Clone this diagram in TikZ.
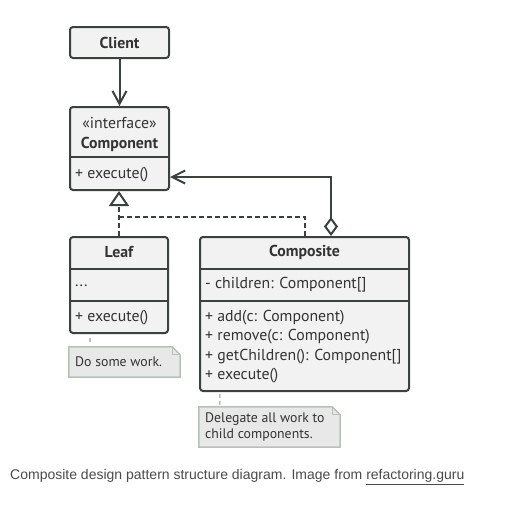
\documentclass[tikz,border=0pt]{standalone}
\usepackage{fontspec}
\setmainfont{PT Sans}
\newfontfamily\captionfont{Liberation Sans}
\usetikzlibrary{arrows.meta}
\usetikzlibrary{calc}
\usetikzlibrary{positioning}
\usetikzlibrary{backgrounds}

\definecolor{boxline}{HTML}{3B413D}
\definecolor{boxfill}{HTML}{F2F2F2}
\definecolor{notefill}{HTML}{E8E8E8}
\definecolor{noteline}{HTML}{B6C2B6}
\definecolor{umltext}{HTML}{333333}
\definecolor{captiontext}{HTML}{4A4A4A}

\begin{document}
\begin{tikzpicture}[
    x=1pt,
    y=-1pt,
    umlbox/.style={
        rectangle,
        draw=boxline,
        fill=boxfill,
        line width=2pt,
        rounded corners=3pt,
        inner sep=0pt,
        },
    title/.style={
        font=\fontsize{15.8}{18}\selectfont\bfseries,
        text=umltext,
        inner sep=0pt,
        },
    stereo/.style={
        font=\fontsize{15.8}{18}\selectfont,
        text=umltext,
        inner sep=0pt,
        },
    member/.style={
        font=\fontsize{15.8}{19.5}\selectfont,
        text=umltext,
        anchor=west,
        align=left,
        inner sep=0pt,
        },
    divider/.style={
        draw=boxline,
        line width=2pt,
        },
    note/.style={
        minimum height=30pt,
        inner sep=0pt,
        },
    notetext/.style={
        font=\fontsize{13.8}{15.5}\selectfont,
        text=umltext,
        anchor=west,
        align=left,
        inner sep=0pt,
        },
    noteedge/.style={
        fill=notefill,
        draw=noteline,
        line width=1.5pt,
        },
    notelink/.style={
        draw=noteline,
        line width=1.5pt,
        dash pattern=on 4pt off 3pt,
        },
    link/.style={
        draw=boxline,
        line width=2pt,
        },
    dashedlink/.style={
        draw=boxline,
        line width=2pt,
        dash pattern=on 5pt off 3pt,
        },
    ]

    \useasboundingbox (0,0) rectangle (511,504);

    % classes
    \node [umlbox, minimum width=99pt, minimum height=31pt] (client) at (119.5,42.5) {};
    \node [title] (clienttitle) at (client.center) {Client};

    \node [umlbox, minimum width=99pt, minimum height=83pt] (comp) at (119.5,148.5) {};
    \node [stereo] (compstereo) at (119.5,123) {«interface»};
    \node [title] (comptitle) at (119.5,144) {Component};
    \draw [divider] (comp.west |- 0,157) -- (comp.east |- 0,157);
    \node [member] (compexec) at (75,175) {+ execute()};

    \node [umlbox, minimum width=98pt, minimum height=96pt] (leaf) at (119,285) {};
    \node [title] (leaftitle) at (119,252) {Leaf};
    \draw [divider] (leaf.west |- 0,269) -- (leaf.east |- 0,269);
    \node [member] (leafdots) at (75,286) {...};
    \draw [divider] (leaf.west |- 0,301) -- (leaf.east |- 0,301);
    \node [member] (leafexec) at (75,318) {+ execute()};

    \node [umlbox, minimum width=209pt, minimum height=154pt] (composite) at (304.5,314) {};
    \node [title] (compositetitle) at (304.5,252) {Composite};
    \draw [divider] (composite.west |- 0,269) -- (composite.east |- 0,269);
    \node [member] (children) at (205,285) {- children: Component[]};
    \draw [divider] (composite.west |- 0,301) -- (composite.east |- 0,301);
    \node [member] (methods) at (205,346.5) {+ add(c: Component)\\+ remove(c: Component)\\+ getChildren(): Component[]\\+ execute()};

    % notes
    \node [note, minimum width=111pt] (leafnote) at (124.5,362) {};
    \node [notetext] (leafnotetext) at (75,362) {Do some work.};
    \node [note, minimum width=141pt, minimum height=40pt] (compositenote) at (269.5,427) {};
    \node [notetext] (compositenotetext) at (205,427) {Delegate all work to\\child components.};

    \begin{scope}[on background layer]
        \foreach \n in {leafnote, compositenote} {
            \draw [noteedge] (\n.north west) -- ($(\n.north east)+(-8,0)$) -- ($(\n.north east)+(0,8)$)
                -- (\n.south east) -- (\n.south west) -- cycle;
            \draw [noteedge, fill=none, line width=1pt] ($(\n.north east)+(-8,0)$) -- ($(\n.north east)+(-8,8)$)
                -- ($(\n.north east)+(0,8)$);
        }
    \end{scope}

    \draw [notelink] (leaf.south -| leafnote.west) ++(21,4) -- ++(0,6);
    \draw [notelink] (composite.south -| compositenote.west) ++(21,2) -- (compositenote.north -| 220,0);

    % relations
    \draw [link, -{Straight Barb[length=13pt, width=14pt]}] (client) -- (comp);
    \draw [link, {Diamond[open, length=19pt, width=14pt, fill=white]}-{Straight Barb[length=13pt, width=13pt]}]
        ($(composite.north east)+(-79,0)$) |- (comp.east |- 0,177);
    \draw [dashedlink] (composite.north) |- (leaf.north |- 0,217);
    \draw [dashedlink, -{Triangle[open, length=15pt, width=20pt, fill=white]}]
        (leaf.north) -- (leaf.north |- comp.south);

    % caption
    \node [anchor=west, inner sep=0pt, font=\captionfont\fontsize{14}{17}\selectfont, text=captiontext] (caption)
        at (10,477) {Composite design pattern structure diagram. Image from \underline{refactoring.guru}};

\end{tikzpicture}
\end{document}
